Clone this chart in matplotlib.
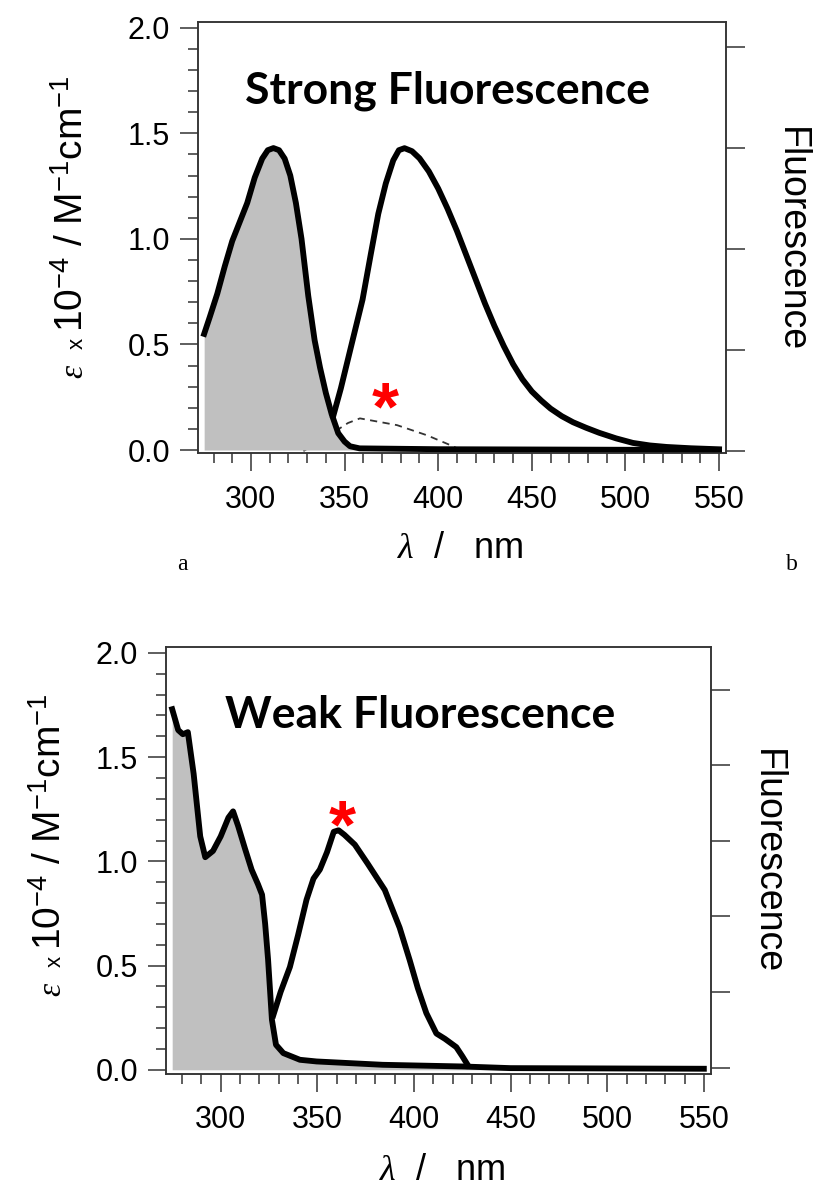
import matplotlib.pyplot as plt
from matplotlib.ticker import MultipleLocator, NullFormatter

plt.rcParams['font.family'] = ['Liberation Sans', 'DejaVu Sans']
plt.rcParams['mathtext.fontset'] = 'custom'
plt.rcParams['mathtext.rm'] = 'Liberation Sans'
plt.rcParams['mathtext.it'] = 'Liberation Serif:italic'

# --- panel a: strong fluorescence ---
abs_a_nm = [275, 278, 282, 286, 290, 294, 298, 302, 306, 309, 312, 315, 318, 321,
            324, 327, 330.6, 334, 336.9, 340, 343.1, 346.6, 350, 352.9, 358, 400, 550]
abs_a_eps = [0.55, 0.63, 0.74, 0.87, 0.99, 1.08, 1.17, 1.29, 1.38, 1.42, 1.43, 1.42,
             1.38, 1.30, 1.17, 1.00, 0.73, 0.52, 0.39, 0.27, 0.17, 0.08, 0.04, 0.018,
             0.008, 0.004, 0.0]
fl_a_nm = [344, 348, 353, 359.6, 364, 368, 372, 376, 379, 382, 386, 390, 395, 400,
           405, 410, 415, 420, 425, 430, 435, 440, 445, 450, 455, 460, 466, 472, 479,
           486, 495, 504, 513, 522, 535, 550]
fl_a_int = [0.35, 0.62, 1.0, 1.5, 1.95, 2.35, 2.65, 2.88, 2.98, 3.0, 2.97, 2.9, 2.77,
            2.6, 2.4, 2.18, 1.94, 1.7, 1.46, 1.24, 1.04, 0.86, 0.71, 0.59, 0.50, 0.42,
            0.345, 0.285, 0.23, 0.18, 0.125, 0.08, 0.055, 0.04, 0.027, 0.017]
dash_a_nm = [328, 340, 351.8, 358.2, 378, 394, 406.3, 412]
dash_a_val = [-0.005, 0.06, 0.128, 0.15, 0.118, 0.07, 0.024, 0.0]

# --- panel b: weak fluorescence ---
abs_b_nm = [274.9, 278, 280.4, 283, 286, 289.4, 292, 296, 300, 304, 306.4, 309, 312.6,
            316, 319.3, 321.4, 323, 324.5, 326.5, 328.6, 332.4, 341, 349.6, 383.8,
            425, 450, 550]
abs_b_eps = [1.73, 1.63, 1.61, 1.62, 1.42, 1.12, 1.02, 1.05, 1.12, 1.21, 1.24, 1.17,
             1.06, 0.96, 0.89, 0.84, 0.70, 0.53, 0.24, 0.12, 0.08, 0.048, 0.04, 0.024,
             0.016, 0.008, 0.005]
fl_b_nm = [327.2, 331, 335.8, 340, 344.4, 348, 351.3, 355, 358.5, 361, 364, 369.4,
           376, 384.9, 392.6, 397.8, 402, 406.4, 411.6, 416, 421.9, 425, 427.9]
fl_b_int = [0.69, 1.0, 1.33, 1.75, 2.22, 2.5, 2.62, 2.85, 3.12, 3.14, 3.08, 2.95,
            2.7, 2.35, 1.85, 1.42, 1.05, 0.72, 0.45, 0.38, 0.27, 0.15, 0.03]

fig = plt.figure(figsize=(8.28, 11.89), dpi=100)

FILL = '#c0c0c0'
SPINE = '#333333'


def style_axes(ax, ax2):
    ax.set_xlim(271.7, 553.7)
    ax.xaxis.set_major_locator(MultipleLocator(50))
    ax.xaxis.set_minor_locator(MultipleLocator(10))
    ax.yaxis.set_major_locator(MultipleLocator(0.5))
    ax.yaxis.set_minor_locator(MultipleLocator(0.1))
    ax.yaxis.set_major_formatter(plt.FuncFormatter(lambda v, p: '%.1f' % v))
    ax.tick_params(which='major', direction='out', length=13, width=1.1,
                   color=SPINE, labelsize=22, pad=7)
    ax.tick_params(which='minor', direction='out', length=7, width=1.1, color=SPINE)
    ax.tick_params(axis='x', which='major', pad=10)
    for s in ax.spines.values():
        s.set_color(SPINE)
        s.set_linewidth(1.1)
    ax2.yaxis.set_major_locator(MultipleLocator(1))
    ax2.yaxis.set_major_formatter(NullFormatter())
    ax2.tick_params(direction='out', length=14, width=1.1, color=SPINE)
    for s in ax2.spines.values():
        s.set_color(SPINE)
        s.set_linewidth(1.1)


# panel a
ax = fig.add_axes([0.2391, 0.6190, 0.6377, 0.3625])
ax2 = ax.twinx()
ax.plot(dash_a_nm, dash_a_val, color='#333333', lw=1.3, ls=(0, (4, 3)), zorder=1)
ax.fill_between(abs_a_nm, 0, abs_a_eps, color=FILL, lw=0, zorder=2)
ax.plot(abs_a_nm, abs_a_eps, color='black', lw=4.2, zorder=3, solid_joinstyle='round')
ax2.plot(fl_a_nm, fl_a_int, color='black', lw=4.2, solid_joinstyle='round')
style_axes(ax, ax2)
ax.set_ylim(-0.014, 2.027)
ax2.set_ylim(-0.02, 4.25)
ax.text(0.473, 0.84, 'Strong Fluorescence', transform=ax.transAxes, ha='center',
        va='center', fontsize=32, fontweight='bold', family='Lato')
ax.text(371.6, 0.10, '*', color='red', fontsize=50, fontweight='bold',
        ha='center', va='baseline')

# panel b
bx = fig.add_axes([0.2005, 0.0971, 0.6582, 0.3590])
bx2 = bx.twinx()
bx.fill_between(abs_b_nm, 0, abs_b_eps, color=FILL, lw=0, zorder=2)
bx.plot(abs_b_nm, abs_b_eps, color='black', lw=4.2, zorder=3, solid_joinstyle='round')
bx2.plot(fl_b_nm, fl_b_int, color='black', lw=4.2, solid_joinstyle='round')
style_axes(bx, bx2)
bx.set_ylim(-0.018, 2.03)
bx2.set_ylim(-0.08, 5.57)
bx.text(0.467, 0.84, 'Weak Fluorescence', transform=bx.transAxes, ha='center',
        va='center', fontsize=32, fontweight='bold', family='Lato')
bx.text(362.7, 1.065, '*', color='red', fontsize=50, fontweight='bold',
        ha='center', va='baseline')

# y labels: epsilon, small "x", then the rest, reading upward
main_lab = r'10$^{-4}$ / M$^{-1}$cm$^{-1}$'
for bx_px, by_px in [(83, 332), (61, 950)]:
    fig.text(bx_px / 828, 1 - by_px / 1189, main_lab, rotation=90, rotation_mode='anchor',
             ha='left', va='baseline', fontsize=28)
    fig.text(bx_px / 828, 1 - (by_px + 6) / 1189, 'x', rotation=90,
             rotation_mode='anchor', ha='right', va='baseline', fontsize=16)
    fig.text(bx_px / 828, 1 - (by_px + 32) / 1189, r'$\varepsilon$', rotation=90,
             rotation_mode='anchor', ha='right', va='baseline', fontsize=24)

fig.text(460 / 828, 1 - 549 / 1189, r'$\lambda$  /   nm', ha='center', va='center', fontsize=26)
fig.text(442 / 828, 1 - 1170 / 1189, r'$\lambda$  /   nm', ha='center', va='center', fontsize=26)
fig.text(791 / 828, 1 - 240 / 1189, 'Fluorescence', rotation=270, ha='center',
         va='center', fontsize=27)
fig.text(767 / 828, 1 - 862 / 1189, 'Fluorescence', rotation=270, ha='center',
         va='center', fontsize=27)
fig.text(182 / 828, 1 - 565 / 1189, 'a', family='Liberation Serif', fontsize=17,
         ha='center', va='center')
fig.text(792 / 828, 1 - 565 / 1189, 'b', family='Liberation Serif', fontsize=17,
         ha='center', va='center')

fig.savefig('out.png', dpi=100)
